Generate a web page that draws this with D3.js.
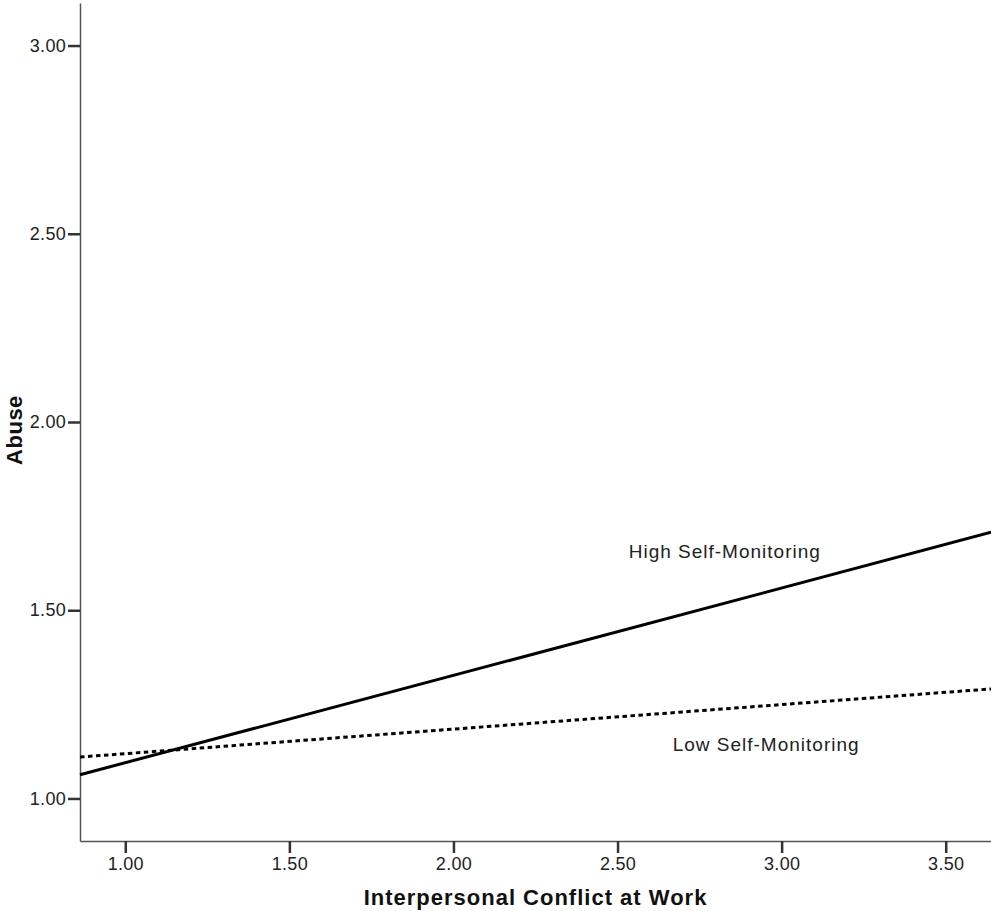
<!DOCTYPE html>
<html lang="en">
<head>
<meta charset="UTF-8">
<title>Abuse by Interpersonal Conflict at Work</title>
<script src="https://d3js.org/d3.v7.min.js"></script>
<style>
  body { margin: 0; background: #fff; }
  svg { display: block; font-family: "Liberation Sans", Arial, sans-serif; }
</style>
</head>
<body>
<svg width="991" height="911"></svg>
<script>
// values
const xEnds = [0.862, 3.638];          // line endpoints on the x axis (edges of the plot)
const highSM = [1.063, 1.707];         // High Self-Monitoring
const lowSM = [1.110, 1.291];          // Low Self-Monitoring
const xTicks = [1.0, 1.5, 2.0, 2.5, 3.0, 3.5];
const yTicks = [1.0, 1.5, 2.0, 2.5, 3.0];
const seriesNames = ["High Self-Monitoring", "Low Self-Monitoring"];

const width = 991, height = 911;
const margin = { top: 3, right: 0, bottom: 70, left: 80 };

const svg = d3.select("svg");

const x = d3.scaleLinear()
    .domain([0.862, 3.638])
    .range([margin.left, width - margin.right]);

const y = d3.scaleLinear()
    .domain([0.887, 3.113])
    .range([height - margin.bottom, margin.top]);

// axes
const xAxis = svg.append("g")
    .attr("transform", `translate(0,${height - margin.bottom})`)
    .call(d3.axisBottom(x).tickValues(xTicks).tickFormat(d3.format(".2f"))
        .tickSize(12).tickSizeOuter(0).tickPadding(4));

const yAxis = svg.append("g")
    .attr("transform", `translate(${margin.left},0)`)
    .call(d3.axisLeft(y).tickValues(yTicks).tickFormat(d3.format(".2f"))
        .tickSize(12).tickSizeOuter(0).tickPadding(2));

[xAxis, yAxis].forEach(g => {
    g.attr("font-size", null).attr("font-family", null);
    g.select(".domain").attr("stroke", "#555").attr("stroke-width", 1.5);
    g.selectAll(".tick line").attr("stroke", "#333").attr("stroke-width", 2.5);
    g.selectAll(".tick text").attr("fill", "#222")
        .style("font-size", "18px").style("letter-spacing", "0.3px");
});

// lines
const line = d3.line()
    .x((d, i) => x(xEnds[i]))
    .y(d => y(d));

svg.append("path")
    .datum(highSM)
    .attr("fill", "none")
    .attr("stroke", "#000")
    .attr("stroke-width", 3)
    .attr("d", line);

svg.append("path")
    .datum(lowSM)
    .attr("fill", "none")
    .attr("stroke", "#000")
    .attr("stroke-width", 3)
    .attr("stroke-dasharray", "4.5,3.5")
    .attr("d", line);

// line labels
svg.append("text")
    .attr("x", x(2.534))
    .attr("y", y(1.640))
    .attr("fill", "#222")
    .style("font-size", "19px")
    .style("letter-spacing", "1px")
    .text(seriesNames[0]);

svg.append("text")
    .attr("x", x(2.668))
    .attr("y", y(1.125))
    .attr("fill", "#222")
    .style("font-size", "19px")
    .style("letter-spacing", "1px")
    .text(seriesNames[1]);

// axis titles
svg.append("text")
    .attr("x", (margin.left + width - margin.right) / 2)
    .attr("y", 905)
    .attr("text-anchor", "middle")
    .style("font-size", "22px")
    .style("font-weight", "bold")
    .style("letter-spacing", "1px")
    .attr("fill", "#111")
    .text("Interpersonal Conflict at Work");

svg.append("text")
    .attr("transform", `translate(22,${(margin.top + height - margin.bottom) / 2 + 8}) rotate(-90)`)
    .attr("text-anchor", "middle")
    .style("font-size", "22px")
    .style("font-weight", "bold")
    .style("letter-spacing", "0.5px")
    .attr("fill", "#111")
    .text("Abuse");
</script>
</body>
</html>
